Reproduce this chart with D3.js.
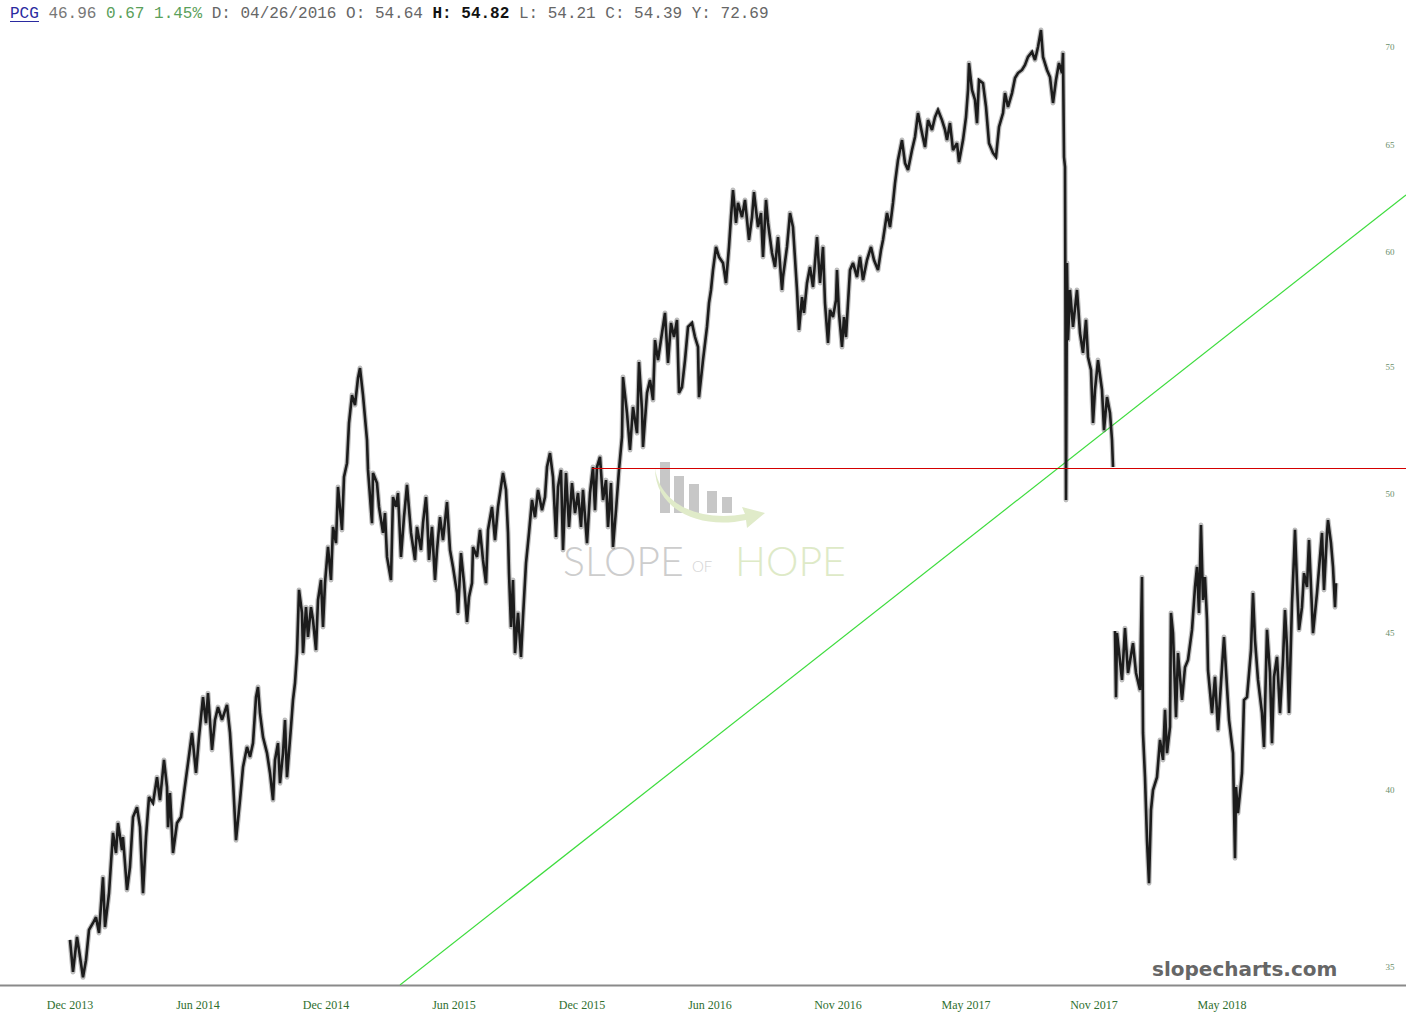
<!DOCTYPE html>
<html>
<head>
<meta charset="utf-8">
<script src="https://cdn.jsdelivr.net/npm/d3@7"></script>
<style>
  body { margin: 0; background: #fff; }
  svg { display: block; }
</style>
</head>
<body>
<div class="chart"></div>
<script>
// trading-day index (0 = first bar, Dec 2013) and traced price, null = gap
const barIdx = [0,3,7,9,13,16,19,23,26,29,33,35,39,43,46,48,52,53,57,60,63,67,70,73,76,79,83,87,90,94,97,98,100,103,107,111,114,118,122,126,129,133,136,138,
  142,145,148,152,157,160,163,166,170,173,177,180,183,186,188,190,193,197,200,203,205,208,210,213,215,217,221,223,225,227,229,232,233,236,238,241,243,246,248,251,253,255,258,261,263,266,268,272,274,277,279,282,285,288,290,293,
  297,298,302,303,307,309,313,315,317,321,323,326,328,331,334,337,341,345,347,351,353,356,357,359,362,365,367,370,373,377,380,383,387,388,391,394,397,399,402,403,407,410,413,416,418,422,425,428,
  433,436,438,439,441,443,445,448,451,453,456,459,462,465,468,472,475,477,480,483,486,488,491,493,496,499,502,505,508,511,513,517,520,523,525,527,530,533,536,538,541,543,546,549,552,553,557,560,563,567,569,572,573,577,580,583,585,588,
  592,595,598,601,604,607,609,612,615,618,622,625,628,629,633,637,639,641,643,646,649,653,656,659,661,663,666,668,672,675,679,682,684,688,691,693,696,698,702,705,708,712,713,717,720,723,727,729,732,734,737,740,743,747,750,753,755,758,
  760,763,766,767,769,772,774,776,778,780,783,787,790,793,797,801,804,808,811,813,817,820,823,825,828,832,835,838,842,845,848,852,855,858,862,865,868,872,875,877,880,883,887,889,893,896,898,899,902,905,907,909,913,916,919,923,926,929,
  933,935,938,942,945,948,952,955,958,962,965,968,971,973,977,980,983,986,989,992,993,994,995,996,997,998,1000,1003,1007,1010,1013,1016,1018,1021,1023,1025,1028,1032,1034,1037,1040,1042,1043,1044,
  1045,1046,1047,1052,1055,1058,1063,1066,1070,1072,1073,1075,1077,1079,1081,1083,1087,1090,1093,1095,1097,1100,1101,1103,1106,1108,1112,1115,1118,1122,1125,1127,1129,1131,1133,1135,1137,1138,
  1142,1145,1148,1152,1154,1157,1159,1163,1165,1166,1168,1172,1174,1177,1181,1183,1185,1188,1192,1194,1197,1200,1202,1204,1207,1210,1213,1215,1217,1219,1222,1224,1225,1227,1229,1232,1234,1237,1239,
  1242,1243,1247,1250,1252,1254,1257,1258,1261,1263,1265,1266];

const price = [35.72,34.87,35.80,35.45,34.73,35.18,35.99,36.18,36.34,35.91,37.45,36.07,37.00,38.72,38.14,39.01,38.22,38.60,37.09,37.74,39.19,39.48,38.89,37.00,38.60,39.78,39.60,40.38,39.69,40.91,40.08,38.89,39.90,38.14,39.01,39.19,39.90,40.81,41.75,40.51,41.62,42.89,42.06,43.02,
  41.22,42.16,42.57,42.16,42.64,41.75,40.29,38.51,39.69,40.69,41.31,41.00,41.43,42.89,43.22,42.38,41.62,41.12,40.51,39.69,40.91,41.43,40.20,41.12,42.16,40.38,41.94,42.80,43.35,44.34,46.50,45.70,44.34,45.90,44.88,45.90,45.46,44.44,46.15,46.85,45.22,46.74,48.03,46.85,48.76,48.17,50.25,48.65,50.63,51.16,52.73,53.85,53.45,54.55,54.96,53.85,
  52.06,50.90,48.90,50.78,50.40,49.50,48.54,49.27,47.67,46.85,49.87,49.50,50.02,47.67,49.12,50.33,48.54,47.56,48.76,47.92,48.90,49.87,49.27,47.56,48.76,46.85,47.92,49.12,48.28,49.68,47.92,47.31,46.39,45.70,47.81,46.74,45.39,46.25,46.74,48.03,47.67,48.65,47.56,46.74,48.65,49.50,48.28,49.50,
  50.78,50.14,48.54,47.09,45.22,46.85,44.34,45.70,44.21,45.56,47.45,48.54,49.76,49.12,50.14,49.38,49.87,51.01,51.55,50.63,48.39,50.25,50.90,47.92,50.78,48.76,50.40,49.27,50.02,48.76,50.14,48.17,50.02,51.01,49.38,51.01,51.40,49.76,50.51,48.76,50.40,48.03,49.38,50.90,52.18,54.59,53.13,51.67,53.37,52.33,55.21,53.25,51.79,53.94,54.47,53.65,56.13,55.29,
  56.43,57.29,55.17,56.86,56.26,56.99,53.94,54.18,55.29,56.69,56.86,56.26,55.84,53.77,55.29,56.69,57.72,58.29,59.17,60.21,59.76,59.49,58.60,60.21,61.58,62.85,61.31,62.24,61.58,62.38,60.53,61.58,62.75,61.12,61.77,59.76,62.38,61.31,59.94,59.31,60.66,58.29,58.86,60.21,61.77,61.12,58.29,56.56,57.98,57.29,58.60,59.31,58.42,60.66,58.60,60.21,57.72,56.01,
  57.42,57.11,57.85,59.17,57.29,55.84,57.11,56.26,57.72,59.17,59.49,58.86,59.76,58.73,59.62,60.21,59.62,59.17,60.07,60.53,61.77,61.12,62.24,63.18,64.29,65.26,64.14,63.80,64.77,65.41,66.60,65.61,64.92,66.25,65.76,66.40,66.76,66.25,65.76,65.26,66.10,64.77,65.11,64.19,65.26,66.40,67.77,69.16,67.77,67.26,66.10,68.28,68.12,66.91,65.11,64.63,64.43,65.91,
  66.60,67.61,66.91,67.61,68.38,68.64,68.80,69.06,69.48,69.74,69.32,70.00,70.90,69.48,68.80,68.43,67.11,68.28,69.16,68.64,69.69,64.43,63.95,49.76,59.49,56.13,58.29,56.69,58.29,56.43,55.59,56.99,55.42,54.88,52.73,54.06,55.29,54.06,52.45,53.77,53.13,52.06,51.01,null,
  45.08,42.89,45.01,43.45,45.18,43.68,44.67,43.68,43.12,46.95,41.75,40.38,38.51,37.28,39.39,39.99,40.38,41.53,40.91,42.48,41.12,41.94,45.70,45.01,42.25,44.34,42.80,43.87,44.11,45.12,46.60,47.31,45.70,48.83,46.15,46.95,45.46,43.77,
  42.38,43.55,41.84,43.87,44.88,43.22,42.16,41.12,37.99,40.08,39.30,40.51,42.80,42.89,44.44,46.39,44.78,43.45,42.38,41.31,45.12,43.68,41.43,43.55,44.21,42.38,44.11,45.80,44.54,42.38,46.04,47.67,48.65,46.74,45.12,45.90,47.09,46.60,48.28,
  45.80,45.01,46.39,47.67,48.54,46.50,48.54,49.01,48.17,47.31,45.90,46.74];

const xTickIdx = [0, 128, 256, 384, 512, 640, 768, 896, 1024, 1152];
const xTickLabels = ["Dec 2013", "Jun 2014", "Dec 2014", "Jun 2015", "Dec 2015", "Jun 2016", "Nov 2016", "May 2017", "Nov 2017", "May 2018"];
const yTicks = [35, 40, 45, 50, 55, 60, 65, 70];

// support (red) and trend (green) lines, [index, price]
const supportLine = [[522, 50.99], [1336, 50.99]];
const trendLine = [[330, 34.53], [1336, 62.62]];

const width = 1406, height = 1026;

const x = d3.scaleLinear().domain([0, 1336]).range([70, 1406]);
const y = d3.scaleLog().domain([35, 70]).range([967, 47]);

const svg = d3.select(".chart").append("svg")
  .attr("width", width)
  .attr("height", height);

svg.append("defs").append("clipPath").attr("id", "plot")
  .append("rect").attr("x", 0).attr("y", 26).attr("width", width).attr("height", 959);

// watermark
const wm = svg.append("g").attr("opacity", 0.9);
[[660, 462, 10], [674, 476, 10], [689, 484, 10], [707, 491, 10], [722, 497, 10]].forEach((b) => {
  wm.append("rect").attr("x", b[0]).attr("y", b[1]).attr("width", b[2]).attr("height", 513 - b[1]).attr("fill", "#c2c2c2");
});
wm.append("path")
  .attr("d", "M655,468 C660,505 700,522 745,514 L742,507 L765,513 L747,528 L746,520 C700,530 655,510 655,468 Z")
  .attr("fill", "#dde9c4");
wm.append("text").attr("x", 563).attr("y", 576)
  .style("font", "300 41px Lato, 'Open Sans', sans-serif").attr("fill", "#c8c8c8").text("SLOPE");
wm.append("text").attr("x", 692).attr("y", 572)
  .style("font", "300 15px Lato, 'Open Sans', sans-serif").attr("fill", "#cfcfcf").text("OF");
wm.append("text").attr("x", 735).attr("y", 576)
  .style("font", "300 41px Lato, 'Open Sans', sans-serif").attr("fill", "#dbe8c2").text("HOPE");

// bottom axis line
svg.append("line").attr("x1", 0).attr("x2", width).attr("y1", 985.5).attr("y2", 985.5)
  .attr("stroke", "#8a8a8a").attr("stroke-width", 2);

// x tick labels
svg.append("g").selectAll("text").data(xTickIdx).join("text")
  .attr("x", (d) => x(d))
  .attr("y", 1009)
  .attr("text-anchor", "middle")
  .style("font", "12px 'Liberation Serif', serif")
  .attr("fill", "#2f6f2f")
  .text((d, i) => xTickLabels[i]);

// y tick labels
svg.append("g").selectAll("text").data(yTicks).join("text")
  .attr("x", 1390)
  .attr("y", (d) => y(d) + 3)
  .attr("text-anchor", "middle")
  .style("font", "9px 'Liberation Serif', serif")
  .attr("fill", "#6b8f6b")
  .text((d) => d);

const seg = d3.line().x((d) => x(d[0])).y((d) => y(d[1]));

svg.append("path").attr("d", seg(trendLine))
  .attr("clip-path", "url(#plot)")
  .attr("fill", "none").attr("stroke", "#3ddc3d").attr("stroke-width", 1.2);

// price trace
const pts = barIdx.map((d, i) => [d, price[i]]);
const priceLine = d3.line()
  .defined((d) => d[1] != null)
  .x((d) => x(d[0]))
  .y((d) => y(d[1]));

// soft underlay for the daily high-low spread
svg.append("path").attr("d", priceLine(pts))
  .attr("fill", "none").attr("stroke", "#444").attr("stroke-opacity", 0.35).attr("stroke-width", 5)
  .attr("stroke-linejoin", "round");

svg.append("path").attr("d", priceLine(pts))
  .attr("fill", "none").attr("stroke", "#1c1c1c").attr("stroke-width", 2.6)
  .attr("stroke-linejoin", "miter").attr("stroke-miterlimit", 3);

svg.append("line")
  .attr("x1", x(supportLine[0][0])).attr("x2", width)
  .attr("y1", Math.round(y(supportLine[0][1])) + 0.5).attr("y2", Math.round(y(supportLine[1][1])) + 0.5)
  .attr("stroke", "#d40000").attr("stroke-width", 1);

// site mark
svg.append("text").attr("x", 1152).attr("y", 976)
  .style("font", "bold 20px 'DejaVu Sans', sans-serif")
  .attr("fill", "#666").text("slopecharts.com");

// header
const head = svg.append("text").attr("x", 10).attr("y", 18)
  .style("font", "16px 'Liberation Mono', monospace").attr("xml:space", "preserve");
head.append("tspan").attr("fill", "#2a2aa0").text("PCG");
head.append("tspan").attr("fill", "#777").text(" 46.96 ");
head.append("tspan").attr("fill", "#5aa05a").text("0.67 1.45%");
head.append("tspan").attr("fill", "#666").text(" D: 04/26/2016 O: 54.64 ");
head.append("tspan").attr("fill", "#111").attr("font-weight", "bold").text("H: 54.82");
head.append("tspan").attr("fill", "#666").text(" L: 54.21 C: 54.39 Y: 72.69");
svg.append("line").attr("x1", 10).attr("x2", 39).attr("y1", 21.5).attr("y2", 21.5)
  .attr("stroke", "#2a2aa0").attr("stroke-width", 1);
</script>
</body>
</html>
